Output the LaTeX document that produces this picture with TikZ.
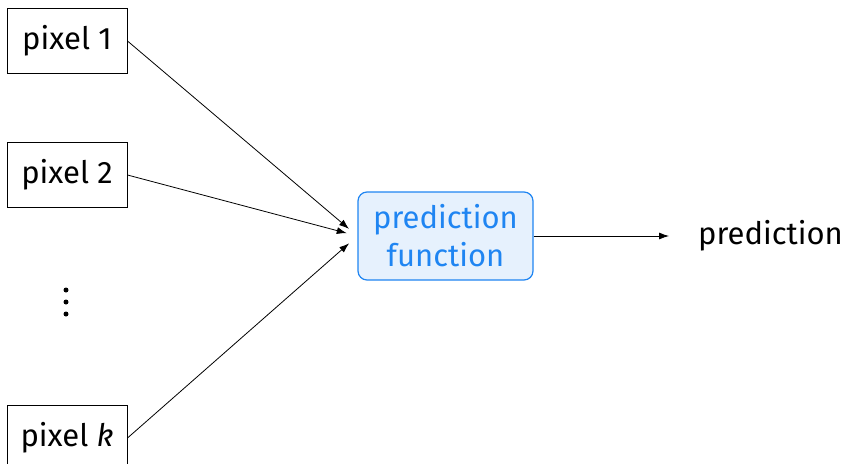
\documentclass[tikz,border=0pt]{standalone}
\usepackage{fontspec}
\setmainfont{Fira Sans}
\usetikzlibrary{arrows.meta}
\definecolor{pfblue}{HTML}{1F85F2}
\definecolor{pffill}{HTML}{E6F1FD}
\begin{document}
\begin{tikzpicture}[x=1pt,y=-1pt,
  every node/.style={font=\fontsize{31}{38}\selectfont},
  inbox/.style={draw,line width=1pt,minimum width=120pt,minimum height=65pt,inner sep=0pt},
  pfbox/.style={draw=pfblue,fill=pffill,text=pfblue,line width=1.2pt,rounded corners=9pt,minimum width=175pt,minimum height=88pt,align=center,inner sep=0pt},
  conn/.style={-{Latex[length=10pt,width=7pt]},line width=0.8pt},
  dot/.style={circle,fill=black,inner sep=0pt,minimum size=5pt}]
\useasboundingbox (0,0) rectangle (848,463);
\node[inbox] (p1) at (67,41) {pixel 1};
\node[inbox] (p2) at (67,175) {pixel 2};
\node[inbox] (pk) at (67,438) {pixel \textit{k}};
\node[dot] (d1) at (66,290) {};
\node[dot] (d2) at (66,302) {};
\node[dot] (d3) at (66,314) {};
\node[pfbox] (pf) at (445.5,236) {prediction\\function};
\node[anchor=west,inner sep=0pt] (out) at (698,236) {prediction};
\draw[conn,shorten >=11pt] (p1.east) -- (pf.west);
\draw[conn,shorten >=11pt] (p2.east) -- (pf.west);
\draw[conn,shorten >=11pt] (pk.east) -- (pf.west);
\draw[conn,shorten >=29pt] (pf.east) -- (out.west);
\end{tikzpicture}
\end{document}
